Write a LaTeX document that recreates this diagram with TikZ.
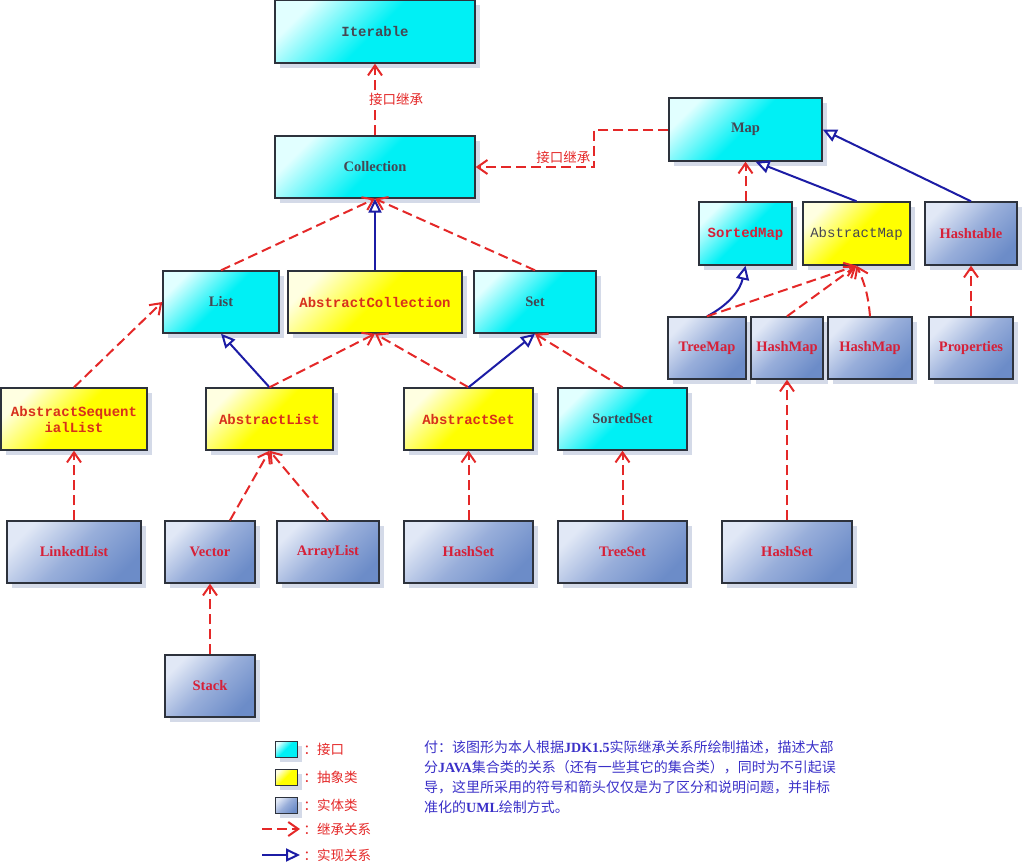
\documentclass[tikz,border=0pt]{standalone}
\usepackage{fontspec}
\setmainfont{Liberation Serif}
\setmonofont{Liberation Mono}
\newfontfamily\cjk{Noto Sans CJK SC}
\usepackage{xcolor}
\usetikzlibrary{arrows.meta,calc,shadows}
\definecolor{inhred}{RGB}{228,40,40}
\definecolor{impblue}{RGB}{28,28,165}
\definecolor{txtred}{RGB}{214,32,56}
\definecolor{absred}{RGB}{215,48,28}
\definecolor{txtgray}{RGB}{70,70,82}
\definecolor{noteblue}{RGB}{58,48,200}
\definecolor{boxline}{RGB}{45,50,60}
\definecolor{cyanlt}{RGB}{225,255,255}
\definecolor{cyandk}{RGB}{0,240,245}
\definecolor{yellt}{RGB}{255,255,225}
\definecolor{yeldk}{RGB}{255,255,0}
\definecolor{concrlt}{RGB}{225,232,246}
\definecolor{concrmd}{RGB}{152,174,218}
\definecolor{concrdk}{RGB}{108,140,200}
\definecolor{shadowc}{RGB}{212,218,232}

\begin{document}
\begin{tikzpicture}[x=1pt,y=-1pt,
  box/.style={draw=boxline,line width=1.4pt,inner sep=0pt,align=center,
    drop shadow={shadow xshift=5pt,shadow yshift=-5pt,fill=shadowc,opacity=1}},
  iface/.style={box,top color=cyanlt,bottom color=cyandk,middle color=cyandk,shading angle=45},
  absc/.style={box,top color=yellt,bottom color=yeldk,middle color=yeldk,shading angle=45},
  conc/.style={box,top color=concrlt,bottom color=concrdk,middle color=concrmd,shading angle=45},
  sz/.style 2 args={minimum width=#1,minimum height=#2},
  tt/.style={font=\fontsize{14}{16}\selectfont\ttfamily\bfseries},
  rm/.style={font=\fontsize{14.5}{16}\selectfont\bfseries},
  inherit/.style={inhred,line width=2pt,dash pattern=on 10pt off 5pt,
    -{Straight Barb[length=10pt,width=14pt]}},
  realize/.style={impblue,line width=2pt,
    -{Triangle[open,length=14pt,width=13pt,fill=white]}},
  cjklabel/.style={font=\fontsize{13.5}{16}\selectfont\cjk,text=inhred}]
  \useasboundingbox (0,0) rectangle (1024,863);

  % interfaces
  \node[iface,tt,text=txtgray,sz={200}{63}] (iterable) at (375,31.5) {Iterable};
  \node[iface,rm,text=txtgray,sz={200}{62}] (collection) at (375,167) {Collection};
  \node[iface,rm,text=txtgray,sz={153}{63}] (map) at (745.5,129.5) {Map};
  \node[iface,rm,text=txtgray,sz={116}{62}] (list) at (221,302) {List};
  \node[iface,rm,text=txtgray,sz={122}{62}] (set) at (535,302) {Set};
  \node[iface,rm,text=txtgray,sz={129}{62}] (sortedset) at (622.5,419) {SortedSet};
  \node[iface,tt,text=txtred,sz={93}{63}] (sortedmap) at (745.5,233.5) {SortedMap};

  % abstract classes
  \node[absc,tt,text=absred,sz={174}{62}] (abscoll) at (375,302) {AbstractCollection};
  \node[absc,tt,text=absred,sz={146}{62}] (absseqlist) at (74,419) {AbstractSequent\\ialList};
  \node[absc,tt,text=absred,sz={127}{62}] (abslist) at (269.5,419) {AbstractList};
  \node[absc,tt,text=absred,sz={129}{62}] (absset) at (468.5,419) {AbstractSet};
  \node[absc,font=\fontsize{14}{16}\selectfont\ttfamily,text=txtgray,sz={107}{63}] (absmap) at (856.5,233.5) {AbstractMap};

  % concrete classes
  \node[conc,rm,text=txtred,sz={92}{63}] (hashtable) at (971,233.5) {Hashtable};
  \node[conc,rm,text=txtred,sz={78}{62}] (treemap) at (707,348) {TreeMap};
  \node[conc,rm,text=txtred,sz={72}{62}] (hashmapA) at (787,348) {HashMap};
  \node[conc,rm,text=txtred,sz={84}{62}] (hashmapB) at (870,348) {HashMap};
  \node[conc,rm,text=txtred,sz={84}{62}] (properties) at (971,348) {Properties};
  \node[conc,rm,text=txtred,sz={134}{62}] (linkedlist) at (74,552) {LinkedList};
  \node[conc,rm,text=txtred,sz={90}{62}] (vector) at (210,552) {Vector};
  \node[conc,rm,text=txtred,sz={102}{62}] (arraylist) at (328,552) {ArrayList};
  \node[conc,rm,text=txtred,sz={90}{62}] (stack) at (210,686) {Stack};
  \node[conc,rm,text=txtred,sz={129}{62}] (hashsetA) at (468.5,552) {HashSet};
  \node[conc,rm,text=txtred,sz={129}{62}] (treeset) at (622.5,552) {TreeSet};
  \node[conc,rm,text=txtred,sz={130}{62}] (hashsetB) at (787,552) {HashSet};

  % collection side
  \draw[inherit] (collection.north) -- node[cjklabel,fill=white,inner sep=1pt,anchor=west,xshift=-8pt] {接口继承} (iterable.south);
  \draw[inherit] (map.west) -- ++(-74,0) |- node[cjklabel,pos=0.63,above,inner sep=2pt] {接口继承} (collection.east);
  \draw[inherit] (list.north) -- (collection.south);
  \draw[realize] (abscoll.north) -- (collection.south);
  \draw[inherit] (set.north) -- (collection.south);
  \draw[inherit] (absseqlist.north) -- (list.west);
  \draw[realize] (abslist.north) -- (list.south);
  \draw[inherit] (abslist.north) -- (abscoll.south);
  \draw[inherit] (absset.north) -- (abscoll.south);
  \draw[realize] (absset.north) -- (set.south);
  \draw[inherit] (sortedset.north) -- (set.south);
  \draw[inherit] (linkedlist.north) -- (absseqlist.south);
  \draw[inherit] ($(vector.north)+(20,0)$) -- (abslist.south);
  \draw[inherit] (arraylist.north) -- (abslist.south);
  \draw[inherit] (stack.north) -- (vector.south);
  \draw[inherit] (hashsetA.north) -- (absset.south);
  \draw[inherit] (treeset.north) -- (sortedset.south);
  \draw[inherit] (hashsetB.north) -- (hashmapA.south);

  % map side
  \draw[inherit] (sortedmap.north) -- (map.south);
  \draw[realize] (absmap.north) -- ($(map.south)+(10,0)$);
  \draw[realize] (hashtable.north) -- (map.east);
  \draw[realize] (treemap.north) to[bend right=25] (sortedmap.south);
  \draw[inherit] (treemap.north) -- (absmap.south);
  \draw[inherit] (hashmapA.north) -- (absmap.south);
  \draw[inherit] (hashmapB.north) to[bend right=10] (absmap.south);
  \draw[inherit] (properties.north) -- (hashtable.south);

  % legend
  \node[iface,line width=1pt,sz={22}{16}] (legif) at (286,749) {};
  \node[absc,line width=1pt,sz={22}{16}] (legabs) at (286,777) {};
  \node[conc,line width=1pt,sz={22}{16}] (legconc) at (286,805) {};
  \node[cjklabel,anchor=west] (legiftxt) at (300,749) {：接口};
  \node[cjklabel,anchor=west] (legabstxt) at (300,777) {：抽象类};
  \node[cjklabel,anchor=west] (legconctxt) at (300,805) {：实体类};
  \node[cjklabel,anchor=west] (leginhtxt) at (300,829) {：继承关系};
  \node[cjklabel,anchor=west] (legreatxt) at (300,855) {：实现关系};
  \coordinate (leginh) at (262,829);
  \coordinate (legrea) at (262,855);
  \draw[inherit] (leginh) -- (leginhtxt.west);
  \draw[realize] (legrea) -- (legreatxt.west);

  \node[anchor=north west,align=left,text=noteblue,inner sep=0pt,
    font=\fontsize{14}{20}\selectfont\cjk] (note) at (424,740)
    {付：该图形为本人根据{\rmfamily\bfseries JDK1.5}实际继承关系所绘制描述，描述大部\\
     分{\rmfamily\bfseries JAVA}集合类的关系（还有一些其它的集合类），同时为不引起误\\
     导，这里所采用的符号和箭头仅仅是为了区分和说明问题，并非标\\
     准化的{\rmfamily\bfseries UML}绘制方式。};
\end{tikzpicture}
\end{document}
